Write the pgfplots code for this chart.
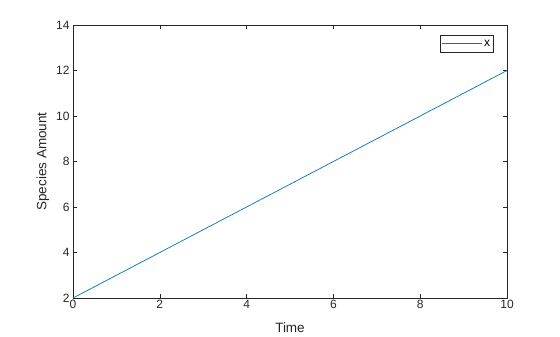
\documentclass[border=0pt]{standalone}
\usepackage{pgfplots}
\pgfplotsset{compat=1.18}
\usepackage{fontspec}
\setmainfont{Liberation Sans}
\definecolor{mblue}{rgb}{0,0.447,0.741}
\definecolor{axgray}{rgb}{0.15,0.15,0.15}
\begin{document}
\begin{tikzpicture}
\useasboundingbox (0,0) rectangle (560pt,337pt);
\begin{axis}[
  at={(73pt,39pt)}, anchor=south west,
  scale only axis, width=434pt, height=273pt,
  xmin=0, xmax=10, ymin=2, ymax=14,
  xtick={0,2,...,10}, ytick={2,4,...,14},
  tick align=inside, tick pos=both,
  major tick length=4pt,
  axis line style={axgray, line width=0.6pt},
  tick style={axgray, line width=0.6pt},
  every tick label/.append style={font=\fontsize{12}{14}\selectfont, text=axgray},
  xticklabel style={yshift=1pt},
  /pgf/number format/assume math mode=true,
  xlabel={Time}, ylabel={Species Amount},
  label style={font=\fontsize{13.5}{15}\selectfont, text=axgray},
  xlabel style={yshift=-7pt},
  ylabel style={yshift=0pt},
  legend style={at={(0.970,0.963)}, anchor=north east, draw=axgray, line width=0.6pt,
    font=\fontsize{12}{13}\selectfont, inner xsep=1.5pt, inner ysep=2.5pt,
    cells={anchor=west}},
  legend image code/.code={\draw[mblue, line width=0.7pt] (0pt,0pt) -- (40pt,0pt);},
]
\addplot[mblue, line width=0.7pt] coordinates {(0,2) (10,12)};
\addlegendentry{x}
\end{axis}
\end{tikzpicture}
\end{document}
